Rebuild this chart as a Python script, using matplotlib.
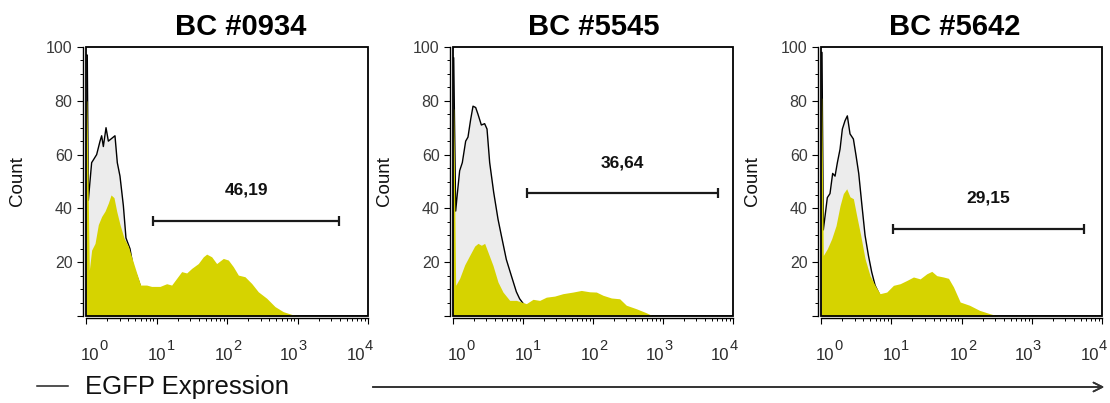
import numpy as np
import matplotlib
matplotlib.use('Agg')
import matplotlib.pyplot as plt
from matplotlib import font_manager as fm
from matplotlib.patches import Rectangle
from matplotlib.lines import Line2D
from matplotlib.ticker import MultipleLocator, LogLocator, NullFormatter

# fonts
_names = {f.name for f in fm.fontManager.ttflist}
NARROW = 'Liberation Sans Narrow' if 'Liberation Sans Narrow' in _names else 'Liberation Sans'
plt.rcParams['font.family'] = ['Liberation Sans', 'DejaVu Sans']

# ---- data (x values are log10 of EGFP intensity) ----
titles = ['BC #0934', 'BC #5545', 'BC #5642']
gate_labels = ['46,19', '36,64', '29,15']

# control histograms (grey, outlined)
ctrl1_x = [0, 0.018, 0.033, 0.08, 0.104, 0.151, 0.199, 0.222, 0.246, 0.284, 0.317, 0.364, 0.411,
           0.444, 0.482, 0.53, 0.567, 0.624, 0.671, 0.719, 0.8, 0.95, 1.2, 1.5, 4.0]
ctrl1_y = [97, 97, 43, 57, 58, 60, 65, 67, 63, 70, 65, 66, 67,
           57, 52, 41, 29, 25, 18, 15, 9, 3, 0.5, 0, 0]
ctrl2_x = [0, 0.01, 0.038, 0.062, 0.095, 0.133, 0.181, 0.214, 0.252, 0.286, 0.324, 0.357, 0.405,
           0.452, 0.486, 0.524, 0.581, 0.643, 0.69, 0.762, 0.833, 0.905, 0.952, 1.05, 1.3, 1.6, 4.0]
ctrl2_y = [96, 96, 39, 45.5, 54, 57, 65, 66.5, 73, 78, 77.5, 75, 71,
           71.5, 69.5, 57, 46, 36, 30, 21, 15, 9, 6.4, 3, 0.8, 0, 0]
ctrl3_x = [0, 0.014, 0.033, 0.057, 0.09, 0.128, 0.166, 0.2, 0.233, 0.271, 0.304, 0.342, 0.375,
           0.413, 0.461, 0.499, 0.537, 0.58, 0.627, 0.675, 0.722, 0.77, 0.85, 1.0, 1.3, 1.6, 4.0]
ctrl3_y = [98, 98, 32, 37, 44, 45.5, 53, 52, 57, 62, 69.5, 72.6, 74.4,
           67.7, 65.8, 59.6, 53, 41.8, 30, 22.5, 16.3, 11.4, 7, 3, 0.8, 0, 0]

# sample histograms (yellow)
smp1_x = [0, 0.012, 0.047, 0.08, 0.128, 0.175, 0.222, 0.27, 0.317, 0.355, 0.397, 0.435, 0.482,
          0.539, 0.6, 0.671, 0.719, 0.775, 0.86, 0.93, 1.05, 1.144, 1.215, 1.286, 1.357, 1.428,
          1.499, 1.593, 1.664, 1.712, 1.783, 1.853, 1.948, 2.019, 2.09, 2.161, 2.255, 2.35,
          2.444, 2.563, 2.681, 2.799, 2.941, 2.988]
smp1_y = [80, 80, 17, 24.5, 27, 34, 37, 39, 42, 45, 44, 39, 34,
          29, 26, 20, 16, 11.5, 11.5, 11, 11, 12, 11.5, 14, 16.5, 16,
          17.7, 19.5, 22, 23, 22, 19.5, 21.4, 20.8, 18.3, 15.2, 14.6, 12.1,
          9, 6.6, 3.5, 1.6, 0.4, 0]
smp2_x = [0, 0.01, 0.038, 0.095, 0.167, 0.238, 0.31, 0.357, 0.405, 0.452, 0.5, 0.571, 0.643,
          0.714, 0.81, 0.905, 1.048, 1.143, 1.238, 1.333, 1.452, 1.571, 1.714, 1.833, 1.952,
          2.048, 2.143, 2.262, 2.381, 2.476, 2.619, 2.762, 2.857]
smp2_y = [77, 77, 11.4, 14, 19, 22.5, 26, 27, 26.3, 27, 23.7, 18.8, 12.6,
          8.9, 5.8, 5.8, 4.6, 6.2, 5.8, 7, 7.4, 8.3, 8.9, 9.5, 9,
          8.9, 7.7, 6.7, 6.4, 4, 2.7, 1.2, 0]
smp3_x = [0, 0.01, 0.033, 0.09, 0.152, 0.214, 0.271, 0.318, 0.366, 0.413, 0.461, 0.508, 0.565,
          0.627, 0.698, 0.77, 0.841, 0.936, 1.031, 1.126, 1.221, 1.316, 1.411, 1.506, 1.577,
          1.648, 1.743, 1.815, 1.886, 1.981, 2.114, 2.257, 2.399, 2.518]
smp3_y = [81, 81, 22.5, 25, 28.7, 33.6, 41, 45.5, 47.3, 44.3, 43.6, 37.3, 30,
          21.3, 15, 11.4, 8.3, 8.9, 11.4, 12, 13.2, 14.5, 13.8, 15.7, 16.6,
          15, 14.5, 14, 10.8, 5.2, 4, 2.1, 0.9, 0]

# gates: [start, end] in log10, height in counts; label position (log10, count)
gate_x = [[0.95, 3.59], [1.06, 3.79], [1.02, 3.74]]
gate_y = [35.3, 45.7, 32.3]
label_x = [2.28, 2.42, 2.38]
label_y = [46.8, 56.9, 43.9]

ctrl = [(ctrl1_x, ctrl1_y), (ctrl2_x, ctrl2_y), (ctrl3_x, ctrl3_y)]
smp = [(smp1_x, smp1_y), (smp2_x, smp2_y), (smp3_x, smp3_y)]

# ---- layout ----
W, H = 1110, 403
fig = plt.figure(figsize=(W / 100, H / 100), dpi=100)
ax_left_px = [86, 453, 821]
ax_width_px = [282, 280, 281]
title_x_px = [241, 594, 955]
# horizontal shift (points) of each decade label relative to its tick
dec_shift = [3.2, 0.7, -1.8, -5.8, -9.0]
bottom = (H - 316) / H
height = (316 - 47) / H

YELLOW = '#d6d300'
GREY = '#ececec'

for i in range(3):
    ax = fig.add_axes([ax_left_px[i] / W, bottom, ax_width_px[i] / W, height])
    cx = 10 ** np.array(ctrl[i][0])
    cy = np.array(ctrl[i][1])
    sx = 10 ** np.array(smp[i][0])
    sy = np.array(smp[i][1])

    ax.fill_between(cx, 0, cy, color=GREY, lw=0, zorder=1)
    ax.plot(cx, cy, color='black', lw=1.0, zorder=2)
    ax.fill_between(sx, 0, sy, color=YELLOW, lw=0, zorder=3)

    # gate bar
    g0, g1 = 10 ** gate_x[i][0], 10 ** gate_x[i][1]
    ax.hlines(gate_y[i], g0, g1, color='#1a1a1a', lw=1.6, zorder=4)
    ax.vlines([g0, g1], gate_y[i] - 2.0, gate_y[i] + 2.0, color='#1a1a1a', lw=1.6, zorder=4)
    ax.text(10 ** label_x[i], label_y[i], gate_labels[i], ha='center', va='center',
            fontsize=12.5, fontweight='bold', color='#111111', zorder=5)

    ax.set_xscale('log')
    ax.set_xlim(1, 1e4)
    ax.set_ylim(0, 100)

    # spines: offset axes lines, plus box frame
    for s in ['top', 'right']:
        ax.spines[s].set_visible(False)
    ax.spines['left'].set_position(('outward', 2.2))
    ax.spines['bottom'].set_position(('outward', 1.4))
    ax.spines['left'].set_linewidth(1.0)
    ax.spines['bottom'].set_linewidth(1.0)
    ax.add_patch(Rectangle((0, 0), 1, 1, transform=ax.transAxes, fill=False,
                           lw=1.3, edgecolor='black', zorder=6, clip_on=False))

    # y ticks
    ax.yaxis.set_minor_locator(MultipleLocator(5))
    ax.set_yticks([0, 20, 40, 60, 80, 100])
    ax.set_yticklabels(['', '20', '40', '60', '80', '100'])
    ax.tick_params(axis='y', which='major', length=4, width=0.8, pad=3.5,
                   labelsize=11.5, labelcolor='#3a3a3a')
    ax.tick_params(axis='y', which='minor', length=2.2, width=0.7)

    # x ticks with manual 10^k labels
    ax.xaxis.set_major_locator(LogLocator(base=10, numticks=10))
    ax.xaxis.set_minor_locator(LogLocator(base=10, subs=np.arange(2, 10), numticks=20))
    ax.xaxis.set_minor_formatter(NullFormatter())
    ax.set_xticklabels([])
    ax.tick_params(axis='x', which='major', length=4.5, width=0.8)
    ax.tick_params(axis='x', which='minor', length=2.2, width=0.7)
    for k in range(5):
        ax.annotate('10', xy=(10 ** k, 0), xycoords=('data', 'axes fraction'),
                    xytext=(dec_shift[k], -31.5), textcoords='offset points', ha='center',
                    va='baseline', fontsize=12, family=NARROW, color='#2a2a2a',
                    annotation_clip=False)
        ax.annotate(str(k), xy=(10 ** k, 0), xycoords=('data', 'axes fraction'),
                    xytext=(dec_shift[k] + 6.5, -24.5), textcoords='offset points', ha='left',
                    va='baseline', fontsize=10.5, family=NARROW, color='#2a2a2a',
                    annotation_clip=False)

    ax.annotate('Count', xy=(0, 0.5), xycoords='axes fraction', xytext=(-49, 0),
                textcoords='offset points', rotation=90, ha='center', va='center',
                fontsize=13.5, color='#111111')

    fig.text(title_x_px[i] / W, (H - 35) / H, titles[i], ha='center', va='baseline',
             fontsize=21, fontweight='bold')

# bottom axis caption and arrow
fig.add_artist(Line2D([37 / W, 68 / W], [(H - 386) / H] * 2, color='#222222', lw=1.1))
fig.text(85 / W, (H - 394) / H, 'EGFP Expression', ha='left', va='baseline', fontsize=18.5,
         color='#111111')
fig.add_artist(plt.annotate('', xy=(1107 / W, (H - 387) / H), xytext=(370 / W, (H - 387) / H),
                            xycoords='figure fraction', textcoords='figure fraction',
                            arrowprops=dict(arrowstyle='->', color='#333333', lw=1.2,
                                            mutation_scale=16)))

fig.savefig('out.png', dpi=100)
